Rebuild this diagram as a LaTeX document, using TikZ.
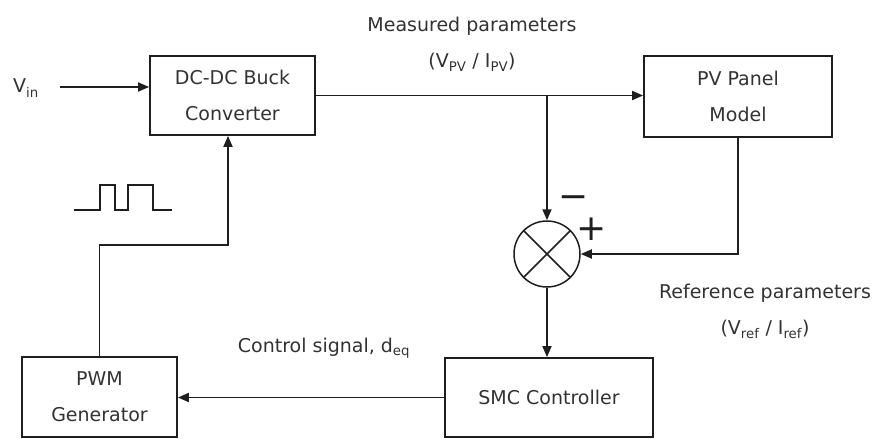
\documentclass[tikz,border=0pt]{standalone}
\usepackage{fontspec}
\setmainfont{DejaVu Sans}
\usetikzlibrary{arrows.meta,positioning,calc}
\definecolor{linegray}{RGB}{30,30,30}
\definecolor{textgray}{RGB}{50,50,50}

\begin{document}
\begin{tikzpicture}[
    x=1pt, y=-1pt,
    font=\fontsize{19}{36}\selectfont,
    block/.style={rectangle, draw=linegray, line width=1.8pt, text=textgray, align=center, inner sep=0pt},
    summer/.style={circle, draw=linegray, line width=1.5pt, minimum size=66pt, inner sep=0pt},
    tag/.style={text=textgray, align=center},
    sign/.style={text=linegray, font=\fontsize{36}{36}\selectfont, inner sep=0pt},
    arrow/.style={-{Triangle[length=11pt,width=9pt]}, line width=1.8pt, draw=linegray}
]
    \useasboundingbox (0,0) rectangle (879,439);

    % Blocks
    \node[block, minimum width=165pt, minimum height=79pt] (buck) at (232.5,95.5) {DC-DC Buck\\Converter};
    \node[block, minimum width=188pt, minimum height=81pt] (pv) at (738,96.5) {PV Panel\\Model};
    \node[block, minimum width=208pt, minimum height=79pt] (smc) at (549,397.5) {SMC Controller};
    \node[block, minimum width=155pt, minimum height=80pt] (pwm) at (99.5,397) {PWM\\Generator};

    % Summing junction
    \node[summer] (sum) at (547,254) {};
    \draw[linegray, line width=1.5pt] (sum.north west) -- (sum.south east);
    \draw[linegray, line width=1.5pt] (sum.north east) -- (sum.south west);
    \node[sign] (minus) at (574,202) {−};
    \node[sign] (plus) at (592,229) {+};

    % Labels
    \node[tag] (vin) at (26,88) {V\textsubscript{in}};
    \node[tag] (meas) at (472,44) {Measured parameters\\(V\textsubscript{PV} / I\textsubscript{PV})};
    \node[tag] (ref) at (765,311) {Reference parameters\\(V\textsubscript{ref} / I\textsubscript{ref})};
    \node[tag] (ctrl) at (324,348) {Control signal, d\textsubscript{eq}};

    % Pulse train
    \draw[linegray, line width=1.8pt] (74,210) -- (100,210) -- (100,185) -- (115,185) -- (115,210)
        -- (128,210) -- (128,185) -- (153,185) -- (153,210) -- (172,210);

    % Edges
    \coordinate (vinend) at (60,87);
    \coordinate (tap) at (sum |- buck.east);
    \coordinate (bend) at (228,245);
    \draw[arrow] (vinend) -- (buck.west |- vinend);
    \draw[arrow] (buck.east) -- (buck.east -| pv.west);
    \draw[arrow] (tap) -- (sum.north);
    \draw[arrow] (pv.south) |- (sum.east);
    \draw[arrow] (sum.south) -- (sum.south |- smc.north);
    \draw[arrow] (smc.west) -- (smc.west -| pwm.east);
    \draw[arrow] (pwm.north) |- (bend) -- (bend |- buck.south);
\end{tikzpicture}
\end{document}
